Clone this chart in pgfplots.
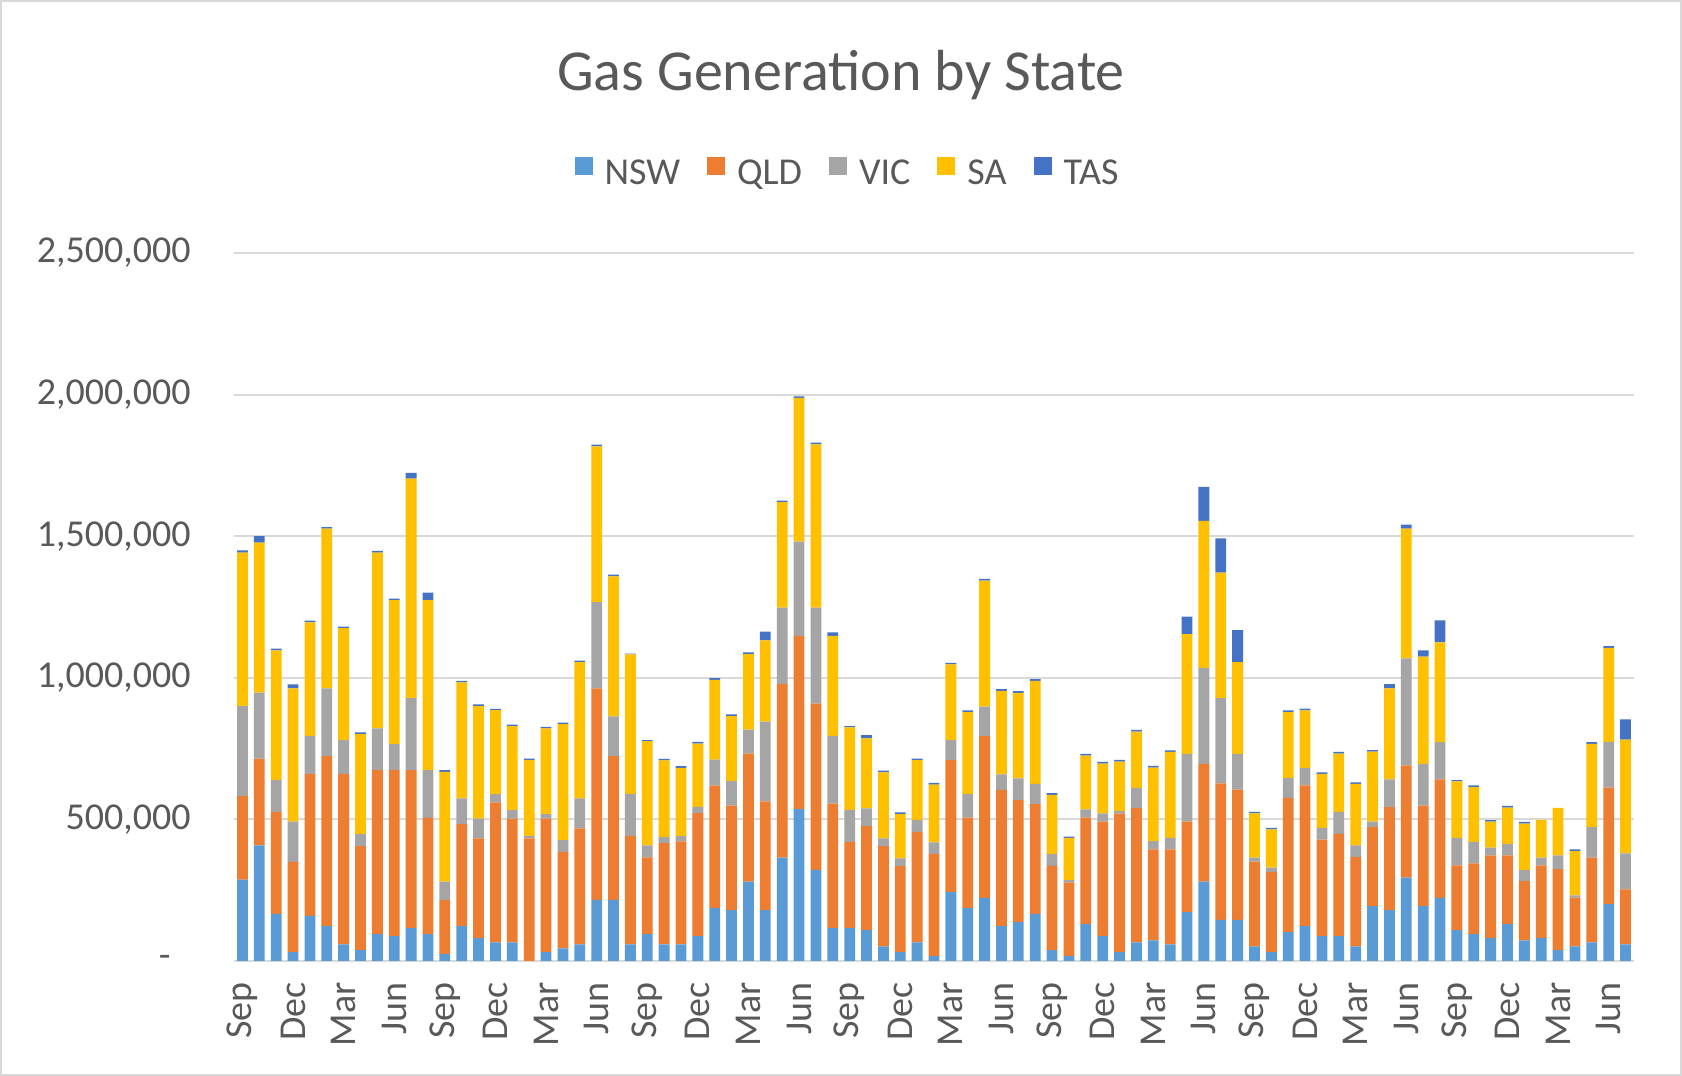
\documentclass[border=0pt]{standalone}
\usepackage{fontspec}
\setmainfont{Carlito}
\usepackage{pgfplots}
\pgfplotsset{compat=1.18}
\usepackage{pgfplotstable}
\definecolor{cNSW}{HTML}{5B9BD5}
\definecolor{cQLD}{HTML}{ED7D31}
\definecolor{cVIC}{HTML}{A5A5A5}
\definecolor{cSA}{HTML}{FFC000}
\definecolor{cTAS}{HTML}{4472C4}
\definecolor{txt}{HTML}{595959}
\definecolor{gridc}{HTML}{D9D9D9}

% values in thousands (MWh)
\pgfplotstableread{
x NSW QLD VIC SA TAS
0 287 295 318 542 8
1 408 307 233 529 23
2 166 361 112 458 6
3 31 319 142 471 14
4 159 501 135 401 6
5 123 600 240 564 5
6 59 601 120 395 6
7 38 368 42 353 6
8 95 579 147 621 6
9 88 586 92 508 6
10 116 558 254 775 21
11 95 410 169 600 27
12 24 192 64 388 6
13 123 360 91 410 5
14 81 352 70 397 6
15 66 494 29 297 4
16 66 437 30 296 6
17 0 433 8 268 6
18 31 472 16 302 6
19 45 340 42 409 6
20 59 409 106 481 6
21 216 747 304 550 6
22 216 507 141 494 6
23 59 383 148 493 2
24 95 271 42 368 4
25 59 357 21 271 6
26 59 363 19 241 6
27 88 434 22 224 6
28 187 432 92 282 6
29 180 369 86 230 6
30 280 452 85 267 6
31 180 384 281 287 31
32 365 613 270 372 6
33 536 612 333 507 6
34 322 587 339 576 6
35 116 440 239 353 12
36 116 304 114 291 4
37 109 367 63 247 12
38 52 354 27 233 6
39 31 304 27 157 6
40 66 390 42 211 6
41 17 361 41 204 6
42 244 465 71 267 6
43 187 319 83 290 6
44 223 571 104 445 6
45 123 481 55 295 6
46 137 431 77 302 6
47 166 388 71 364 6
48 38 298 42 209 6
49 17 261 8 149 4
50 130 376 29 190 6
51 88 404 29 176 6
52 31 489 9 175 6
53 66 475 70 199 6
54 73 321 29 260 6
55 59 335 41 303 6
56 173 319 239 423 62
57 280 416 338 520 120
58 145 482 301 443 121
59 145 460 126 324 113
60 52 299 14 156 6
61 31 284 15 135 5
62 102 474 70 233 6
63 123 497 62 203 6
64 88 341 41 191 5
65 88 361 78 205 6
66 52 315 41 217 6
67 194 279 19 247 6
68 180 363 98 322 15
69 294 397 378 458 14
70 194 355 147 379 22
71 223 418 132 352 78
72 109 229 97 199 5
73 95 250 76 193 6
74 81 292 27 92 5
75 130 243 40 129 6
76 73 209 39 164 6
77 81 257 27 133 0
78 38 286 49 168 0
79 52 172 8 156 6
80 66 299 108 294 6
81 201 411 162 332 6
82 59 194 127 402 71
}\gasdata

\begin{document}
\begin{tikzpicture}
\path[use as bounding box] (0,0) rectangle (841pt,538pt);
\fill[white] (0,0) rectangle (841pt,538pt);
\draw[color=gridc, line width=1pt] (0.5pt,0.5pt) rectangle (840.5pt,537.5pt);
\begin{axis}[
  at={(117pt,57.5pt)}, anchor=south west,
  width=700pt, height=354pt, scale only axis,
  ybar stacked, bar width=0.64,
  xmin=-0.5, xmax=82.5, ymin=0, ymax=2500,
  axis line style={draw=none},
  tick style={draw=none},
  ymajorgrids, grid style={color=gridc, line width=1pt},
  ytick={0,500,1000,1500,2000,2500},
  yticklabels={{-\hspace*{10pt}},{500,000},{1,000,000},{1,500,000},{2,000,000},{2,500,000}},
  yticklabel style={font=\fontsize{19}{23}\selectfont, text=txt, inner sep=0pt, anchor=east},
  yticklabel shift=21.5pt,
  xtick={0,3,...,81},
  xticklabels={Sep,Dec,Mar,Jun,Sep,Dec,Mar,Jun,Sep,Dec,Mar,Jun,Sep,Dec,Mar,Jun,Sep,Dec,Mar,Jun,Sep,Dec,Mar,Jun,Sep,Dec,Mar,Jun},
  xticklabel style={font=\fontsize{19}{23}\selectfont, text=txt, inner sep=0pt, rotate=90, anchor=east},
  xticklabel shift=10.5pt,
  title={Gas Generation by State},
  title style={at={(axis description cs:0.4336,1.234)}, anchor=center, font=\fontsize{29}{35}\selectfont, text=txt},
  legend columns=5,
  legend style={draw=none, fill=none, at={(axis description cs:0.439,1.112)}, anchor=center,
    font=\fontsize{19}{23}\selectfont, text=txt,
    /tikz/every even column/.append style={column sep=11.5pt},
    /tikz/every odd column/.append style={column sep=4pt}},
  legend image code/.code={\fill[#1] (0pt,-0.5pt) rectangle (9pt,8.5pt);},
]
\addplot[fill=cNSW, draw=none] table[x=x, y=NSW] {\gasdata};
\addplot[fill=cQLD, draw=none] table[x=x, y=QLD] {\gasdata};
\addplot[fill=cVIC, draw=none] table[x=x, y=VIC] {\gasdata};
\addplot[fill=cSA, draw=none] table[x=x, y=SA] {\gasdata};
\addplot[fill=cTAS, draw=none] table[x=x, y=TAS] {\gasdata};
\legend{NSW,QLD,VIC,SA,TAS}
\end{axis}
\end{tikzpicture}
\end{document}
